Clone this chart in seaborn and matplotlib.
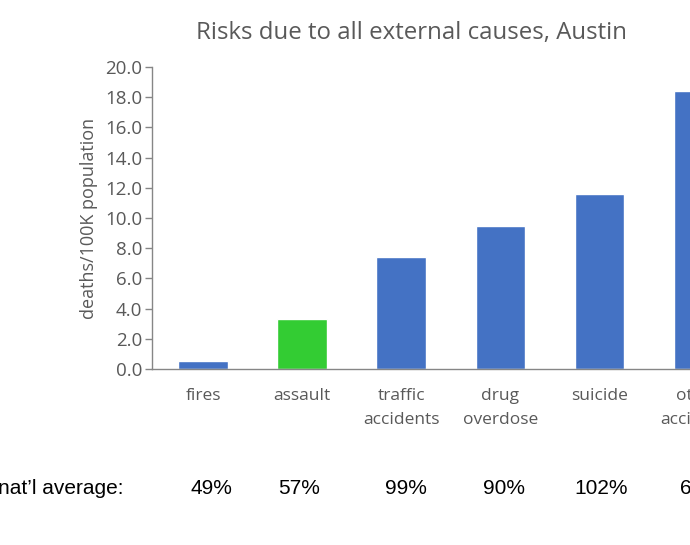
import matplotlib
matplotlib.use("Agg")
import matplotlib.pyplot as plt
import seaborn as sns
import pandas as pd

# chart values
causes = ["fires", "assault", "traffic\naccidents", "drug\noverdose", "suicide", "other\naccidents"]
rates = [0.5, 3.3, 7.4, 9.5, 11.6, 18.4]
bar_colors = ["#4472C4", "#33CC33", "#4472C4", "#4472C4", "#4472C4", "#4472C4"]
natl_pct = ["49%", "57%", "99%", "90%", "102%", "65%"]
yticks = [0, 2, 4, 6, 8, 10, 12, 14, 16, 18, 20]

df = pd.DataFrame({"cause": causes, "rate": rates})

sns.set_style("white")
plt.rcParams["font.family"] = ["Open Sans", "DejaVu Sans"]
grey = "#595959"

fig = plt.figure(figsize=(6.9, 5.45), dpi=100)
# axes runs past the right edge, like the cropped screenshot
ax = fig.add_axes([152 / 690, 176 / 545, 596 / 690, 302 / 545])

sns.barplot(data=df, x="cause", y="rate", hue="cause", palette=bar_colors,
            width=0.5, legend=False, ax=ax, saturation=1)

ax.set_xlim(-0.515, 5.5)
ax.set_ylim(0, 20)
ax.set_yticks(yticks)
ax.set_yticklabels([f"{t:.1f}" for t in yticks], color=grey, fontsize=13.5)
ax.tick_params(axis="y", direction="out", length=5, width=1, color="#868686", pad=2, left=True)
ax.tick_params(axis="x", length=0, pad=14, labelsize=12.5, labelcolor=grey)
for lbl in ax.get_xticklabels():
    lbl.set_linespacing(1.6)
    lbl.set_verticalalignment("top")

for s in ["top", "right"]:
    ax.spines[s].set_visible(False)
for s in ["left", "bottom"]:
    ax.spines[s].set_color("#868686")
    ax.spines[s].set_linewidth(1)

ax.set_xlabel("")
ax.set_ylabel("deaths/100K population", color=grey, fontsize=13, labelpad=5)

fig.text(412 / 690, 1 - 33 / 545, "Risks due to all external causes, Austin",
         ha="center", va="center", fontsize=17.3, color=grey)

# national average row, Arial-like font
row_y = 1 - 488 / 545
fig.text(124 / 690, row_y, "nat\u2019l average:", ha="right", va="center",
         fontsize=15, family="Liberation Sans", color="black")
nudge = [8, -3, 5, 4, 2, 2]
for i, p in enumerate(natl_pct):
    xd = ax.transData.transform((i, 0))[0] / fig.bbox.width
    fig.text(xd + nudge[i] / 690, row_y, p, ha="center", va="center",
             fontsize=15, family="Liberation Sans", color="black")

fig.savefig("out.png", dpi=100)
